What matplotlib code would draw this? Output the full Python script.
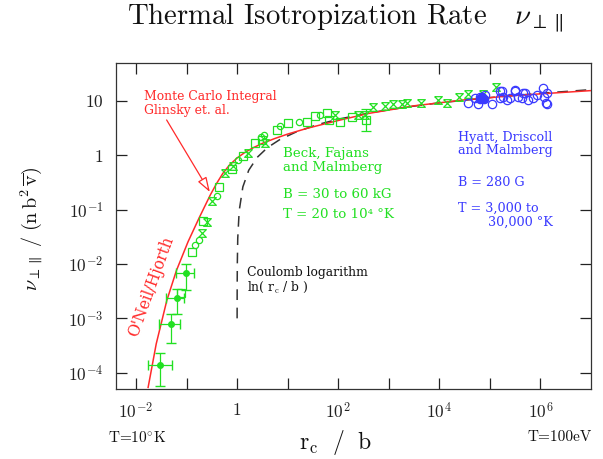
import numpy as np
import matplotlib
matplotlib.use("Agg")
import matplotlib.pyplot as plt
from matplotlib.path import Path

plt.rcParams["mathtext.fontset"] = "cm"
plt.rcParams["font.family"] = ["cmr10", "DejaVu Serif"]
plt.rcParams["axes.unicode_minus"] = False

RED = "#ff2a2a"
GREEN = "#22e022"
BLUE = "#3a3aff"
SERIF = ["DejaVu Serif"]

# ---- data (log10 values) ----
# Monte Carlo integral / O'Neil-Hjorth curve
red_logx = [-1.76, -1.6, -1.39, -1.2, -0.97, -0.75, -0.53, -0.4, -0.28, -0.15,
            0.0, 0.15, 0.3, 0.5, 0.75, 1.0, 1.4, 2.0, 2.6, 3.5, 4.5, 5.5, 6.5, 7.0]
red_logy = [-4.27, -3.47, -2.67, -2.12, -1.59, -1.15, -0.73, -0.51, -0.33, -0.18,
            -0.05, 0.05, 0.13, 0.22, 0.31, 0.39, 0.50, 0.64, 0.77, 0.91, 1.02,
            1.10, 1.16, 1.19]

# Coulomb logarithm ln(rc/b)
coul_x = [1.001, 1.003, 1.01, 1.03, 1.1, 1.3, 1.7, 2.5, 4, 7, 15, 40, 100,
          400, 2000, 1e4, 1e5, 1e6, 1e7]
coul_y = [0.001, 0.003, 0.00995, 0.0296, 0.0953, 0.262, 0.531, 0.916, 1.386,
          1.946, 2.708, 3.689, 4.605, 5.991, 7.601, 9.210, 11.51, 13.82, 16.12]

# Beck, Fajans and Malmberg - squares
sq_logx = [-1.10, -0.89, -0.67, -0.36, -0.10, 0.11, 0.36, 0.49, 0.79, 1.01,
           1.38, 1.54, 1.78, 1.82, 2.04, 2.27]
sq_logy = [-2.53, -1.78, -1.21, -0.59, -0.26, -0.02, 0.22, 0.29, 0.46, 0.59,
           0.61, 0.72, 0.77, 0.64, 0.62, 0.70]
# square with error bar
sqe_logx = [2.55]
sqe_logy = [0.64]
sqe_lo = [0.45]
sqe_hi = [0.86]

# Beck - small circles
ci_logx = [-0.83, -0.75, -0.40, 0.02, 0.47, 0.53, 0.85, 1.23, 1.64]
ci_logy = [-1.65, -1.56, -0.75, -0.09, 0.33, 0.37, 0.53, 0.62, 0.74]

# Beck - hourglass markers
hg_logx = [-0.69, -0.59, -0.49, -0.24, -0.08, 0.22, 0.55, 1.94, 2.39, 2.53,
           2.69, 2.92, 3.08, 3.26, 3.36, 3.64, 3.97, 4.15, 4.39, 4.57, 4.86, 5.12]
hg_logy = [-1.43, -1.23, -0.85, -0.33, -0.20, 0.04, 0.22, 0.75, 0.74, 0.74,
           0.88, 0.90, 0.94, 0.95, 0.97, 0.97, 1.01, 0.97, 1.07, 1.12, 1.12, 1.25]

# Beck - filled points with error bars
eb_logx = [-1.52, -1.30, -1.19, -1.01]
eb_logy = [-3.85, -3.10, -2.62, -2.17]
eb_xlo = [-1.76, -1.54, -1.40, -1.21]
eb_xhi = [-1.28, -1.13, -1.05, -0.85]
eb_ylo = [-4.24, -3.45, -2.92, -2.48]
eb_yhi = [-3.63, -2.92, -2.46, -2.00]

# Hyatt, Driscoll and Malmberg - open circles
hy_logx = [4.57, 4.70, 4.76, 4.80, 4.90, 5.04, 5.20, 5.20, 5.24, 5.26, 5.34,
           5.40, 5.49, 5.49, 5.56, 5.63, 5.65, 5.69, 5.75, 5.85, 5.93, 6.05,
           6.07, 6.11, 6.13, 6.13]
hy_logy = [0.97, 1.05, 0.95, 1.07, 1.10, 0.95, 1.19, 1.05, 1.19, 1.07, 1.01,
           1.05, 1.19, 1.21, 1.07, 1.05, 1.14, 1.14, 1.01, 1.05, 1.10, 1.23,
           1.07, 0.97, 1.14, 0.95]
# filled ones
hyf_logx = [4.80, 4.84, 4.88]
hyf_logy = [1.03, 1.08, 1.04]

xtick_pow = [-2, -1, 0, 1, 2, 3, 4, 5, 6]
xtick_lab = [r"$10^{-2}$", "", r"$1$", "", r"$10^{2}$", "", r"$10^{4}$", "", r"$10^{6}$"]
ytick_pow = [-4, -3, -2, -1, 0, 1]
ytick_lab = [r"$10^{-4}$", r"$10^{-3}$", r"$10^{-2}$", r"$10^{-1}$", r"$1$", r"$10$"]


def p10(a):
    return 10.0 ** np.asarray(a)


# hourglass marker
hourglass = Path([(-1, 1), (1, 1), (-1, -1), (1, -1), (-1, 1)],
                 [Path.MOVETO, Path.LINETO, Path.LINETO, Path.LINETO, Path.LINETO])

fig = plt.figure(figsize=(6.03, 4.59), dpi=100)
ax = fig.add_axes([0.192, 0.1525, 0.788, 0.7105])

ax.set_xscale("log")
ax.set_yscale("log")
ax.set_xlim(10 ** -2.4, 10 ** 7.0)
ax.set_ylim(10 ** -4.3, 10 ** 1.7)

# curves
ax.plot(coul_x, coul_y, color="#333333", lw=1.1, dashes=(7, 5), zorder=2)
ax.plot(p10(red_logx), p10(red_logy), color=RED, lw=1.1, zorder=3)

# Beck data
ax.plot(p10(sq_logx), p10(sq_logy), ls="none", marker="s", ms=6.2,
        mfc="none", mec=GREEN, mew=0.9, zorder=4)
ax.plot(p10(ci_logx), p10(ci_logy), ls="none", marker="o", ms=4.5,
        mfc="none", mec=GREEN, mew=0.9, zorder=4)
ax.plot(p10(hg_logx), p10(hg_logy), ls="none", marker=hourglass, ms=5.5,
        mfc="none", mec=GREEN, mew=0.9, zorder=4)
ax.errorbar(p10(sqe_logx), p10(sqe_logy),
            yerr=[p10(sqe_logy) - p10(sqe_lo), p10(sqe_hi) - p10(sqe_logy)],
            fmt="s", ms=6.2, mfc="none", mec=GREEN, ecolor=GREEN, mew=0.9,
            elinewidth=0.9, capsize=3.5, zorder=4)
ax.errorbar(p10(eb_logx), p10(eb_logy),
            xerr=[p10(eb_logx) - p10(eb_xlo), p10(eb_xhi) - p10(eb_logx)],
            yerr=[p10(eb_logy) - p10(eb_ylo), p10(eb_yhi) - p10(eb_logy)],
            fmt="o", ms=4, mfc=GREEN, mec=GREEN, ecolor=GREEN,
            elinewidth=0.9, capsize=3.5, zorder=4)

# Hyatt data
ax.plot(p10(hy_logx), p10(hy_logy), ls="none", marker="o", ms=6,
        mfc="none", mec=BLUE, mew=0.9, zorder=5)
ax.plot(p10(hyf_logx), p10(hyf_logy), ls="none", marker="o", ms=6,
        mfc=BLUE, mec=BLUE, mew=0.9, zorder=5)

# ticks
ax.set_xticks(p10(xtick_pow))
ax.set_xticklabels(xtick_lab)
ax.set_yticks(p10(ytick_pow))
ax.set_yticklabels(ytick_lab)
ax.minorticks_off()
ax.tick_params(which="both", direction="in", length=8, width=0.9,
               top=True, right=True, labelsize=12.5, pad=9, colors="#222222")
for s in ax.spines.values():
    s.set_linewidth(0.9)
    s.set_color("#333333")

# annotations
ax.text(0.059, 0.917, "Monte Carlo Integral\nGlinsky et. al.", transform=ax.transAxes,
        family=SERIF, fontsize=8.9, color=RED, va="top", ha="left", linespacing=1.1)
ax.annotate("", xy=(0.198, 0.604), xytext=(0.107, 0.825), xycoords="axes fraction",
            arrowprops=dict(arrowstyle="-|>,head_length=0.9,head_width=0.3",
                            ec=RED, fc="white", lw=0.9, shrinkA=0, shrinkB=0))
ax.text(0.074, 0.313, "O'Neil/Hjorth", transform=ax.transAxes, family=SERIF,
        fontsize=11.2, color=RED, rotation=70, ha="center", va="center")

ax.text(0.352, 0.741, "Beck, Fajans\nand Malmberg", transform=ax.transAxes,
        family=SERIF, fontsize=9.6, color=GREEN, va="top", linespacing=1.05)
ax.text(0.352, 0.595, "B = 30 to 60 kG", transform=ax.transAxes,
        family=SERIF, fontsize=9.6, color=GREEN, va="center")
ax.text(0.352, 0.534, "T = 20 to 10\u2074 \u00b0K", transform=ax.transAxes,
        family=SERIF, fontsize=9.6, color=GREEN, va="center")

ax.text(0.72, 0.792, "Hyatt, Driscoll\nand Malmberg", transform=ax.transAxes,
        family=SERIF, fontsize=9.2, color=BLUE, va="top", linespacing=1.05)
ax.text(0.72, 0.632, "B = 280 G", transform=ax.transAxes,
        family=SERIF, fontsize=9.2, color=BLUE, va="center")
ax.text(0.72, 0.555, "T = 3,000 to", transform=ax.transAxes,
        family=SERIF, fontsize=9.2, color=BLUE, va="center")
ax.text(0.783, 0.512, "30,000 \u00b0K", transform=ax.transAxes,
        family=SERIF, fontsize=9.2, color=BLUE, va="center")

ax.text(0.276, 0.358, "Coulomb logarithm", transform=ax.transAxes,
        family=SERIF, fontsize=8.9, color="#111111", va="center")
ax.text(0.276, 0.313, r"ln( r$_{\rm c}$ / b )", transform=ax.transAxes,
        family=SERIF, fontsize=8.9, color="#111111", va="center")

# titles and labels
fig.text(0.573, 0.962, r"Thermal Isotropization Rate   $\nu_{\perp\parallel}$",
         ha="center", va="center", fontsize=20.7, color="#111111")
fig.text(0.052, 0.50, r"$\nu_{\perp\parallel}\ /\ (\mathrm{n\,b}^{2}\,\overline{\mathrm{v}})$",
         rotation=90, ha="center", va="center", fontsize=14.5, color="#111111")
fig.text(0.557, 0.035, r"$\mathrm{r_c}\ \ /\ \ \mathrm{b}$",
         ha="center", va="center", fontsize=17, color="#111111")
fig.text(0.179, 0.047, r"T=10$^{\circ}$K", ha="left", va="center",
         fontsize=11, color="#111111")
fig.text(0.982, 0.047, "T=100eV", ha="right", va="center",
         fontsize=11, color="#111111")

fig.savefig("out.png", dpi=100)
